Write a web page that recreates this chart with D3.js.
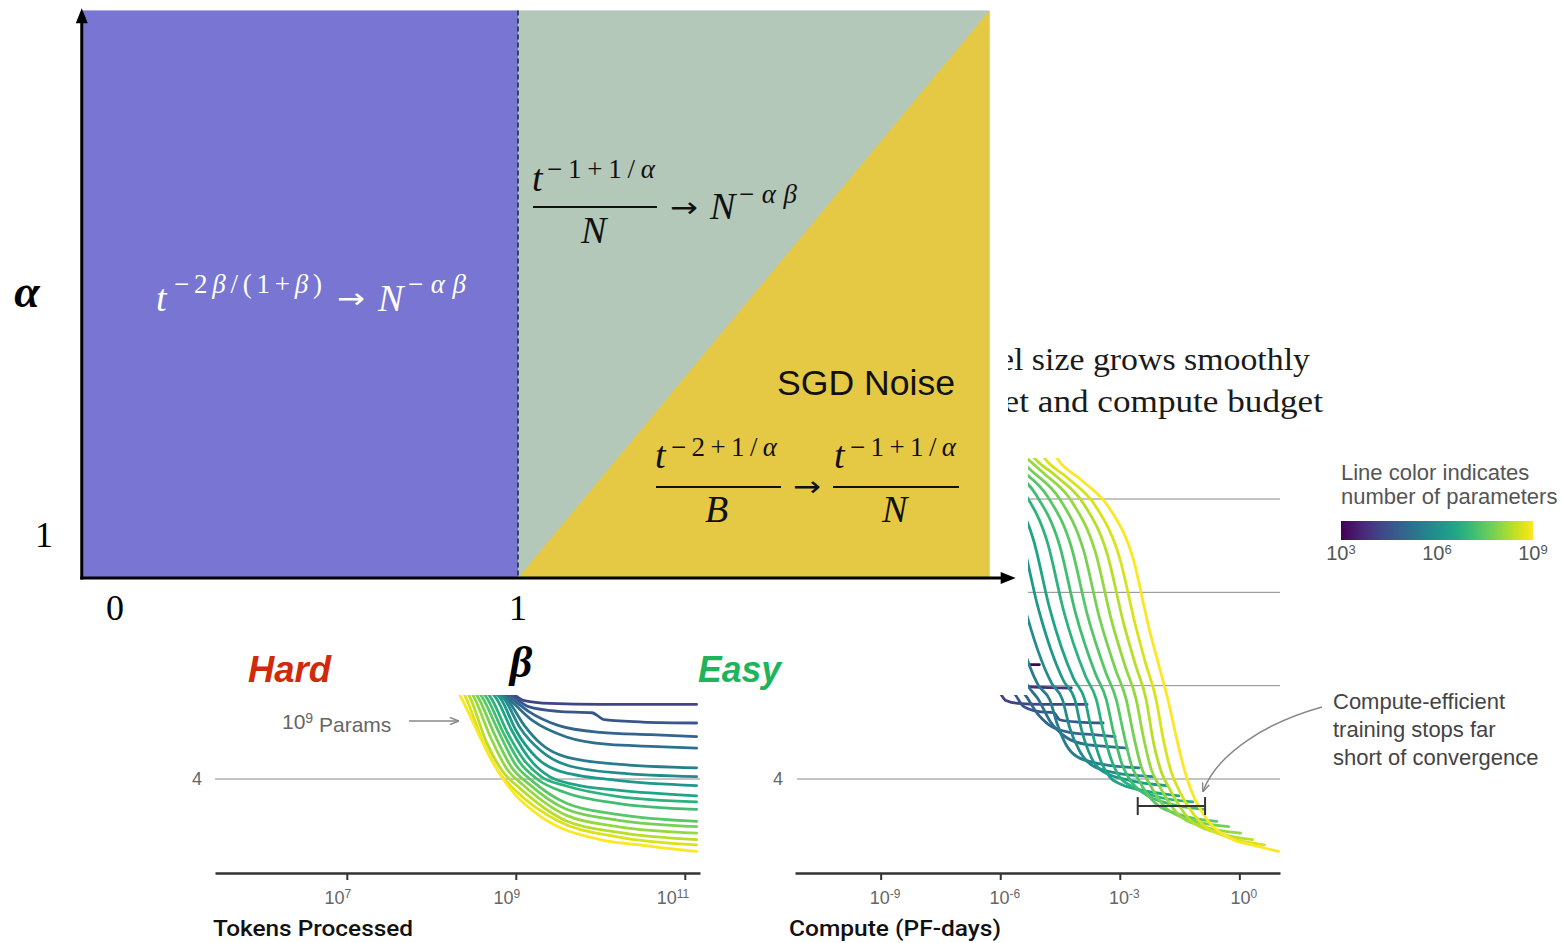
<!DOCTYPE html>
<html>
<head>
<meta charset="utf-8">
<script src="https://cdn.jsdelivr.net/npm/d3@7"></script>
<style>
  html, body { margin: 0; padding: 0; background: #fff; }
  svg { display: block; }
</style>
</head>
<body>
<div id="chart"></div>
<script>
// ---------- Data ----------
// model sizes, log10(number of parameters); one training curve per model
const modelLogParams = [3.0, 3.8, 4.2, 4.6, 4.9, 5.2, 5.5, 5.85, 6.2, 6.5, 6.85, 7.15, 7.45, 7.75, 8.05, 8.35, 8.65, 9.0];

// test loss vs log10(tokens processed), same order as modelLogParams
const lossCurves = [
  [[8.0, 8.0], [8.6, 6.9], [9.2, 6.55], [10, 6.47], [11.14, 6.45]],
  [[8.2, 7.8], [8.8, 6.4], [9.4, 6.05], [10.2, 5.97], [11.14, 5.95]],
  [[8.0, 7.9], [8.7, 6.2], [8.95, 5.85], [9.1, 5.68], [9.4, 5.62], [10, 5.6], [11.14, 5.6]],
  [[7.9, 7.95], [8.7, 6.05], [8.94, 5.8], [9.15, 5.55], [9.5, 5.45], [9.9, 5.42], [10.05, 5.27], [10.5, 5.22], [11.14, 5.2]],
  [[7.9, 7.9], [8.65, 6.05], [8.93, 5.75], [9.15, 5.45], [9.5, 5.15], [10, 5.0], [10.6, 4.95], [11.14, 4.91]],
  [[7.9, 7.85], [8.65, 6.0], [8.92, 5.7], [9.2, 5.25], [9.6, 4.9], [10.1, 4.74], [10.6, 4.7], [11.14, 4.66]],
  [[7.5, 9.25], [7.9, 7.8], [8.62, 6.0], [8.9, 5.7], [9.1, 5.15], [9.3, 4.75], [9.6, 4.47], [10.2, 4.32], [11.14, 4.24]],
  [[7.5, 9.2], [7.9, 7.75], [8.6, 6.05], [8.87, 5.7], [9.05, 5.1], [9.3, 4.6], [9.6, 4.3], [10.2, 4.13], [11.14, 4.05]],
  [[6.9, 10.25], [7.5, 9.15], [7.9, 7.7], [8.55, 6.1], [8.83, 5.7], [9.0, 5.05], [9.25, 4.45], [9.5, 4.18], [10.2, 3.97], [11.14, 3.86]],
  [[6.2, 10.8], [6.9, 10.2], [7.5, 9.1], [7.9, 7.65], [8.5, 6.15], [8.78, 5.7], [8.95, 5.05], [9.2, 4.35], [9.4, 4.05], [9.7, 3.88], [10.2, 3.76], [11.14, 3.64]],
  [[6.2, 10.75], [6.9, 10.15], [7.5, 9.05], [7.9, 7.6], [8.45, 6.2], [8.72, 5.7], [8.9, 5.0], [9.1, 4.4], [9.3, 4.05], [9.6, 3.85], [10.2, 3.63], [11.14, 3.51]],
  [[5.6, 11.15], [6.2, 10.7], [6.9, 10.1], [7.5, 9.0], [7.9, 7.55], [8.4, 6.25], [8.67, 5.7], [8.85, 5.0], [9.05, 4.35], [9.25, 4.0], [9.6, 3.7], [10.2, 3.48], [11.14, 3.35]],
  [[5.6, 11.1], [6.2, 10.65], [6.9, 10.05], [7.5, 8.95], [7.9, 7.5], [8.35, 6.3], [8.62, 5.7], [8.8, 5.0], [9.0, 4.3], [9.2, 3.95], [9.6, 3.48], [10.2, 3.24], [11.14, 3.09]],
  [[5.6, 11.05], [6.2, 10.6], [6.9, 10.0], [7.5, 8.9], [7.9, 7.45], [8.3, 6.35], [8.57, 5.7], [8.75, 4.95], [8.95, 4.25], [9.15, 3.9], [9.6, 3.35], [10.2, 3.12], [11.14, 2.98]],
  [[5.6, 11.0], [6.2, 10.55], [6.9, 9.95], [7.5, 8.85], [7.9, 7.4], [8.25, 6.4], [8.52, 5.7], [8.7, 4.9], [8.9, 4.2], [9.1, 3.85], [9.6, 3.22], [10.2, 2.98], [11.14, 2.84]],
  [[5.3, 11.4], [5.6, 10.95], [6.2, 10.5], [6.9, 9.9], [7.5, 8.8], [7.9, 7.35], [8.2, 6.45], [8.47, 5.7], [8.65, 4.8], [8.85, 4.15], [9.05, 3.8], [9.6, 3.1], [10.2, 2.86], [11.14, 2.7]],
  [[5.3, 11.35], [5.6, 10.9], [6.2, 10.45], [6.9, 9.85], [7.5, 8.75], [7.9, 7.3], [8.15, 6.5], [8.42, 5.7], [8.6, 4.85], [8.8, 4.15], [9.0, 3.75], [9.5, 3.1], [10.2, 2.76], [11.14, 2.59]],
  [[5.3, 11.3], [5.6, 10.85], [6.2, 10.4], [6.9, 9.8], [7.5, 8.7], [7.9, 7.2], [8.15, 6.4], [8.38, 5.65], [8.55, 5.0], [8.7, 4.45], [8.85, 4.0], [9.0, 3.65], [9.3, 3.19], [10, 2.7], [10.5, 2.58], [11.14, 2.45]]
];

const lossGrid = [4, 6, 8, 10];
const lossLabels = [4];
const tokenTicks = [1e7, 1e9, 1e11];
const computeTicks = [1e-9, 1e-6, 1e-3, 1];
const colorbarTicks = [1e3, 1e6, 1e9];
const flopsPerPFday = 8.64e19;              // compute = 6 * N * tokens
const efficientRange = [10 ** -2.55, 10 ** -0.86]; // PF-days, bracket on right panel
const efficientLoss = 3.42;

// phase diagram (schematic)
const betaTicks = [0, 1];
const alphaTicks = [1];
const betaRange = [-0.08, 2.17];
const alphaRange = [0, 13.2];
const betaBoundary = 1;
const axisEnd = { beta: 2.235, alpha: 13.25 };

// ---------- Setup ----------
const W = 1562, H = 943;
const SANS = "'Liberation Sans', Arial, Helvetica, sans-serif";
const SERIF = "'Liberation Serif', 'Times New Roman', serif";
const ARROWFONT = "'DejaVu Sans', sans-serif";

const svg = d3.select("#chart").append("svg")
  .attr("width", W).attr("height", H)
  .attr("viewBox", `0 0 ${W} ${H}`);
const defs = svg.append("defs");

defs.append("marker")
  .attr("id", "arrowGray")
  .attr("viewBox", "0 -5 10 10")
  .attr("refX", 9).attr("refY", 0)
  .attr("markerWidth", 6).attr("markerHeight", 6)
  .attr("orient", "auto")
  .append("path")
  .attr("d", "M0,-4L10,0L0,4")
  .attr("fill", "none")
  .attr("stroke", "#888")
  .attr("stroke-width", 1.6);

const grad = defs.append("linearGradient").attr("id", "viridis")
  .attr("x1", "0%").attr("x2", "100%").attr("y1", "0%").attr("y2", "0%");
d3.range(0, 1.0001, 0.05).forEach(t => {
  grad.append("stop").attr("offset", `${t * 100}%`).attr("stop-color", d3.interpolateViridis(t));
});

const color = logN => d3.interpolateViridis((logN - 3) / 6);

// shared loss scale for both panels
const lossY = d3.scaleLinear().domain([4, 10]).range([779, 499]);
const axisY = 873;

function superTicks(sel, supSize) {
  sel.each(function (d) {
    const e = Math.round(Math.log10(d));
    const t = d3.select(this);
    t.text(null);
    t.append("tspan").text("10");
    t.append("tspan").attr("dy", "-0.45em").attr("font-size", supSize + "px").text(e);
  });
}

function drawPanel(cfg) {
  const g = svg.append("g");

  defs.append("clipPath").attr("id", cfg.id)
    .append("rect")
    .attr("x", cfg.x.range()[0]).attr("y", 458)
    .attr("width", cfg.x.range()[1] - cfg.x.range()[0])
    .attr("height", axisY - 458);

  // gridlines
  g.append("g").selectAll("line")
    .data(lossGrid)
    .enter().append("line")
    .attr("x1", cfg.gridStart).attr("x2", cfg.x.range()[1])
    .attr("y1", d => lossY(d)).attr("y2", d => lossY(d))
    .attr("stroke", "#8a8a8a").attr("stroke-width", 1);

  g.append("g").selectAll("text")
    .data(lossLabels)
    .enter().append("text")
    .attr("x", cfg.labelX).attr("y", d => lossY(d))
    .attr("dy", "0.35em")
    .attr("text-anchor", "middle")
    .attr("font-family", SANS).attr("font-size", 18).attr("fill", "#666")
    .text(d => d);

  // curves
  const line = d3.line()
    .x(p => cfg.xOf(p))
    .y(p => lossY(p[1]))
    .curve(d3.curveMonotoneX);

  g.append("g").attr("clip-path", `url(#${cfg.id})`)
    .selectAll("path")
    .data(modelLogParams.map((n, i) => ({ n, pts: lossCurves[i] })))
    .enter().append("path")
    .attr("d", d => line(d.pts.map(p => [p[0], p[1], d.n])))
    .attr("fill", "none")
    .attr("stroke", d => color(d.n))
    .attr("stroke-width", 2.8)
    .attr("stroke-linejoin", "round")
    .attr("stroke-linecap", "round");

  // x axis
  const ax = g.append("g")
    .attr("transform", `translate(0,${axisY})`)
    .call(d3.axisBottom(cfg.x).tickValues(cfg.ticks).tickSize(7).tickSizeOuter(0).tickPadding(11));
  ax.select(".domain").attr("stroke", "#333").attr("stroke-width", 2.5);
  ax.selectAll(".tick line").attr("stroke", "#333").attr("stroke-width", 2);
  ax.selectAll(".tick text")
    .attr("font-family", SANS).attr("font-size", 18).attr("fill", "#666")
    .attr("text-anchor", cfg.tickAnchor).attr("dx", cfg.tickDx)
    .call(superTicks, 12);

  g.append("text")
    .attr("x", cfg.titleX).attr("y", 936)
    .attr("font-family", "Roboto, " + SANS).attr("font-weight", 500)
    .attr("font-size", 22).attr("fill", "#111")
    .attr("textLength", cfg.titleLen).attr("lengthAdjust", "spacingAndGlyphs")
    .text(cfg.title);

  return g;
}

// ---------- Left panel: tokens processed ----------
const tokX = d3.scaleLog().domain([10 ** 5.44, 10 ** 11.18]).range([215, 700]);
const left = drawPanel({
  id: "clipLeft", x: tokX, ticks: tokenTicks, gridStart: 215, labelX: 197,
  xOf: p => tokX(10 ** p[0]),
  tickAnchor: "end", tickDx: 4,
  title: "Tokens Processed", titleX: 213, titleLen: 200
});

// 10^9 Params annotation
const pLab = left.append("text")
  .attr("x", 282).attr("y", 729)
  .attr("font-family", SANS).attr("font-size", 21).attr("fill", "#666");
pLab.append("tspan").text("10");
pLab.append("tspan").attr("dy", "-0.45em").attr("font-size", "14px").text("9");
pLab.append("tspan").attr("dy", "0.45em").text(" Params");
left.append("line")
  .attr("x1", 409).attr("x2", 458).attr("y1", 721).attr("y2", 721)
  .attr("stroke", "#888").attr("stroke-width", 1.5)
  .attr("marker-end", "url(#arrowGray)");

// ---------- Right panel: compute ----------
const compX = d3.scaleLog().domain([10 ** -11.15, 10 ** 1.02]).range([795, 1280]);
const right = drawPanel({
  id: "clipRight", x: compX, ticks: computeTicks, gridStart: 797, labelX: 778,
  xOf: p => compX(6 * 10 ** p[2] * 10 ** p[0] / flopsPerPFday),
  tickAnchor: "middle", tickDx: 4,
  title: "Compute (PF-days)", titleX: 789, titleLen: 212
});

// bracket: compute-efficient stopping range
const by = lossY(efficientLoss);
right.append("line")
  .attr("x1", compX(efficientRange[0])).attr("x2", compX(efficientRange[1]))
  .attr("y1", by).attr("y2", by)
  .attr("stroke", "#333").attr("stroke-width", 2);
right.selectAll(".cap")
  .data(efficientRange)
  .enter().append("line")
  .attr("x1", d => compX(d)).attr("x2", d => compX(d))
  .attr("y1", by - 9).attr("y2", by + 9)
  .attr("stroke", "#333").attr("stroke-width", 2);

right.append("path")
  .attr("d", `M1322,707 C1268,722 1218,752 ${compX(efficientRange[1]) - 2},${by - 15}`)
  .attr("fill", "none").attr("stroke", "#888").attr("stroke-width", 1.5)
  .attr("marker-end", "url(#arrowGray)");

right.append("g").selectAll("text")
  .data(["Compute-efficient", "training stops far", "short of convergence"])
  .enter().append("text")
  .attr("x", 1333).attr("y", (d, i) => 709 + i * 28)
  .attr("font-family", SANS).attr("font-size", 22).attr("fill", "#444")
  .text(d => d);

// colour bar legend
const cbX = d3.scaleLog().domain([1e3, 1e9]).range([1341, 1533]);
const legend = svg.append("g");
legend.selectAll(".ttl")
  .data(["Line color indicates", "number of parameters"])
  .enter().append("text")
  .attr("x", 1341).attr("y", (d, i) => 480 + i * 24)
  .attr("font-family", SANS).attr("font-size", 22).attr("fill", "#555")
  .text(d => d);
legend.append("rect")
  .attr("x", cbX.range()[0]).attr("y", 521)
  .attr("width", cbX.range()[1] - cbX.range()[0]).attr("height", 19)
  .attr("fill", "url(#viridis)");
legend.selectAll(".cbt")
  .data(colorbarTicks)
  .enter().append("text")
  .attr("x", d => cbX(d)).attr("y", 560)
  .attr("text-anchor", "middle")
  .attr("font-family", SANS).attr("font-size", 20).attr("fill", "#555")
  .call(superTicks, 13);

// ---------- Phase diagram overlay ----------
const bX = d3.scaleLinear().domain([0, 1]).range([115, 518]);
const aY = d3.scaleLinear().domain([0, 1]).range([578, 535]);
const phase = svg.append("g");

phase.append("rect")
  .attr("x", 0).attr("y", 0).attr("width", 1028).attr("height", 695)
  .attr("fill", "#fff");

// regions
phase.append("rect")
  .attr("x", bX(betaRange[0])).attr("y", aY(alphaRange[1]))
  .attr("width", bX(betaBoundary) - bX(betaRange[0]))
  .attr("height", aY(alphaRange[0]) - aY(alphaRange[1]))
  .attr("fill", "#7876d2");
phase.append("rect")
  .attr("x", bX(betaBoundary)).attr("y", aY(alphaRange[1]))
  .attr("width", bX(betaRange[1]) - bX(betaBoundary))
  .attr("height", aY(alphaRange[0]) - aY(alphaRange[1]))
  .attr("fill", "#b4c8b9");
phase.append("path")
  .datum([[betaBoundary, alphaRange[0]], [betaRange[1], alphaRange[1]], [betaRange[1], alphaRange[0]]])
  .attr("d", d => "M" + d.map(p => [bX(p[0]), aY(p[1])].join(",")).join("L") + "Z")
  .attr("fill", "#e5c844");

phase.append("line")
  .attr("x1", bX(betaBoundary)).attr("x2", bX(betaBoundary))
  .attr("y1", aY(alphaRange[1])).attr("y2", aY(alphaRange[0]))
  .attr("stroke", "#1f2a5c").attr("stroke-width", 1.6)
  .attr("stroke-dasharray", "5,3");

// axes with arrow heads
const ox = bX(betaRange[0]) - 1, oy = aY(0);
const tipX = bX(axisEnd.beta), tipY = aY(axisEnd.alpha);
phase.append("line")
  .attr("x1", ox).attr("x2", ox).attr("y1", oy + 1.5).attr("y2", tipY + 12)
  .attr("stroke", "#000").attr("stroke-width", 3);
phase.append("path")
  .attr("d", `M${ox},${tipY}L${ox - 6},${tipY + 15}L${ox + 6},${tipY + 15}Z`)
  .attr("fill", "#000");
phase.append("line")
  .attr("x1", ox - 1.5).attr("x2", tipX - 12).attr("y1", oy).attr("y2", oy)
  .attr("stroke", "#000").attr("stroke-width", 3);
phase.append("path")
  .attr("d", `M${tipX},${oy}L${tipX - 15},${oy - 6}L${tipX - 15},${oy + 6}Z`)
  .attr("fill", "#000");

// tick labels
phase.selectAll(".bt")
  .data(betaTicks)
  .enter().append("text")
  .attr("x", d => bX(d)).attr("y", 620)
  .attr("text-anchor", "middle")
  .attr("font-family", SERIF).attr("font-size", 36).attr("fill", "#000")
  .text(d => d);
phase.selectAll(".at")
  .data(alphaTicks)
  .enter().append("text")
  .attr("x", 44).attr("y", d => aY(d))
  .attr("dy", "0.34em")
  .attr("text-anchor", "middle")
  .attr("font-family", SERIF).attr("font-size", 36).attr("fill", "#000")
  .text(d => d);

phase.append("text")
  .attr("x", 27).attr("y", 307).attr("text-anchor", "middle")
  .attr("font-family", SERIF).attr("font-size", 46)
  .attr("font-style", "italic").attr("font-weight", "bold")
  .text("α");
phase.append("text")
  .attr("x", 521).attr("y", 677).attr("text-anchor", "middle")
  .attr("font-family", SERIF).attr("font-size", 44)
  .attr("font-style", "italic").attr("font-weight", "bold")
  .text("β");

phase.append("text")
  .attr("x", 248).attr("y", 682)
  .attr("font-family", SANS).attr("font-size", 36)
  .attr("font-style", "italic").attr("font-weight", "bold")
  .attr("fill", "#d02a0a")
  .attr("textLength", 83).attr("lengthAdjust", "spacingAndGlyphs")
  .text("Hard");
phase.append("text")
  .attr("x", 698).attr("y", 682)
  .attr("font-family", SANS).attr("font-size", 36)
  .attr("font-style", "italic").attr("font-weight", "bold")
  .attr("fill", "#1fb45b")
  .attr("textLength", 83).attr("lengthAdjust", "spacingAndGlyphs")
  .text("Easy");

phase.append("text")
  .attr("x", 777).attr("y", 395)
  .attr("font-family", SANS).attr("font-size", 35).attr("fill", "#111")
  .attr("textLength", 178).attr("lengthAdjust", "spacingAndGlyphs")
  .text("SGD Noise");

// math text helper: parts = [[string, italic]]
function math(x, y, size, parts, fill, len, family, adjust) {
  const t = phase.append("text")
    .attr("x", x).attr("y", y)
    .attr("font-family", family || SERIF).attr("font-size", size).attr("fill", fill);
  if (len) t.attr("textLength", len).attr("lengthAdjust", adjust || "spacing");
  parts.forEach(([s, it]) => t.append("tspan").attr("font-style", it ? "italic" : "normal").text(s));
  return t;
}
function arrow(x, yMid, fill) {
  math(x, yMid + 9, 28, [["→", 0]], fill, 28, ARROWFONT, "spacingAndGlyphs");
}
function bar(x1, x2, y) {
  phase.append("line")
    .attr("x1", x1).attr("x2", x2).attr("y1", y).attr("y2", y)
    .attr("stroke", "#111").attr("stroke-width", 2);
}

// purple region
math(156, 311, 38, [["t", 1]], "#fff");
math(174, 293, 27, [["−2", 0], ["β", 1], ["/(1+", 0], ["β", 1], [")", 0]], "#fff", 148);
arrow(337, 299, "#fff");
math(378, 311, 38, [["N", 1]], "#fff");
math(408, 293, 27, [["−", 0], ["αβ", 1]], "#fff", 58);

// green region
math(532, 191, 38, [["t", 1]], "#111");
math(547, 178, 27, [["−1+1/", 0], ["α", 1]], "#111", 108);
bar(533, 657, 207);
math(581, 243, 38, [["N", 1]], "#111");
arrow(670, 208, "#111");
math(710, 219, 38, [["N", 1]], "#111");
math(739, 203, 27, [["−", 0], ["αβ", 1]], "#111", 58);

// yellow region
math(655, 468, 38, [["t", 1]], "#111");
math(671, 456, 27, [["−2+1/", 0], ["α", 1]], "#111", 106);
bar(656, 781, 487);
math(705, 522, 38, [["B", 1]], "#111");
arrow(793, 487, "#111");
math(834, 468, 38, [["t", 1]], "#111");
math(850, 456, 27, [["−1+1/", 0], ["α", 1]], "#111", 106);
bar(833, 959, 487);
math(882, 522, 38, [["N", 1]], "#111");

// ---------- Caption fragment from underlying figure ----------
defs.append("clipPath").attr("id", "clipCaption")
  .append("rect").attr("x", 1008).attr("y", 300).attr("width", 554).attr("height", 150);
const cap = svg.append("g").attr("clip-path", "url(#clipCaption)");
cap.append("text")
  .attr("x", 999).attr("y", 370)
  .attr("font-family", SERIF).attr("font-size", 31).attr("fill", "#1a1a1a")
  .attr("textLength", 311).attr("lengthAdjust", "spacingAndGlyphs")
  .text("el size grows smoothly");
cap.append("text")
  .attr("x", 986).attr("y", 412)
  .attr("font-family", SERIF).attr("font-size", 31).attr("fill", "#1a1a1a")
  .attr("textLength", 337).attr("lengthAdjust", "spacingAndGlyphs")
  .text("get and compute budget");
</script>
</body>
</html>
